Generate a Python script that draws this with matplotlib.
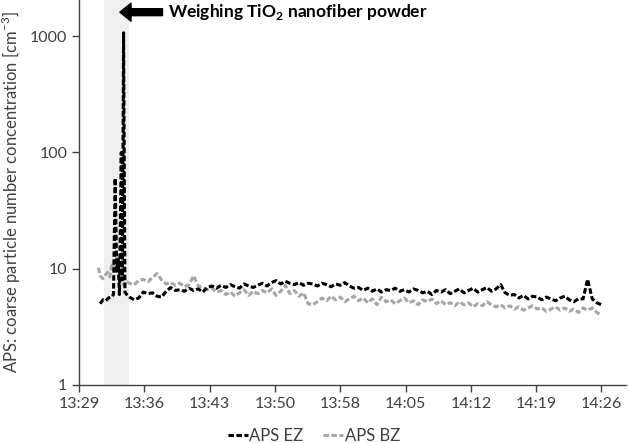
import matplotlib
matplotlib.use("Agg")
import matplotlib.pyplot as plt
import numpy as np

plt.rcParams["font.family"] = ["Lato", "DejaVu Sans"]
plt.rcParams["mathtext.fontset"] = "custom"
plt.rcParams["mathtext.rm"] = "Lato"
plt.rcParams["mathtext.bf"] = "Lato:bold"

# minutes after 13:29
TICK_STEP = 7.125
tick_labels = ["13:29", "13:36", "13:43", "13:50", "13:58",
               "14:05", "14:12", "14:19", "14:26"]

# weighing period (shaded)
weigh_start, weigh_end = 2.73, 5.46

# start of the records, irregular because of the spikes
ez_t_start = [2.3, 2.6, 2.9, 3.2, 3.5, 3.75, 3.93, 4.1, 4.25, 4.4,
              4.6, 4.72, 4.85, 5.0, 5.2]
ez_v_start = [5.0, 5.4, 5.3, 5.6, 5.7, 6.0, 60, 9.5, 12, 6.0,
              100, 8, 1070, 6.3, 6.0]

bz_t_start = [2.1, 2.35, 2.6, 2.85, 3.1, 3.35, 3.6, 3.85, 4.1, 4.35,
              4.6, 4.85, 5.1]
bz_v_start = [10.2, 8.6, 8.2, 8.8, 9.3, 8.5, 11.2, 9.6, 12.5, 10.4,
              8.3, 7.2, 7.8]

# rest of the records, every 30 s from 5.5 min
GRID_START = 5.5
GRID_STEP = 0.5
ez_v = [
    5.7, 5.4, 5.6, 6.3, 6.1, 6.2, 5.8, 5.7, 6.4, 6.9,
    6.5, 6.6, 6.4, 6.8, 6.5, 6.7, 6.3, 6.9, 7.1, 6.8,
    7.2, 6.9, 7.3, 7.0, 6.8, 7.4, 7.1, 6.9, 7.2, 7.5,
    7.1, 7.6, 7.9, 7.4, 7.8, 7.5, 7.3, 7.6, 7.2, 7.5,
    7.4, 7.1, 7.5, 7.3, 7.0, 7.4, 7.2, 7.6, 7.1, 6.8,
    6.9, 6.5, 6.8, 6.4, 6.7, 6.3, 6.6, 6.5, 6.8, 6.4,
    6.6, 6.3, 6.7, 6.5, 6.2, 6.4, 6.0, 6.5, 6.3, 6.6,
    6.1, 6.4, 6.7, 6.2, 6.5, 6.8, 6.3, 6.6, 6.9, 6.4,
    6.7, 7.3, 6.2, 5.9, 6.0, 5.6, 5.9, 5.5, 5.8, 5.7,
    5.4, 5.7, 5.5, 5.3, 5.6, 5.8, 5.4, 5.2, 5.5, 5.5,
    8.1, 5.5, 5.1, 4.9,
]
bz_v = [
    7.5, 7.3, 7.9, 8.1, 7.7, 8.4, 9.1, 8.0, 7.4, 7.6,
    7.2, 7.5, 7.0, 7.3, 8.7, 7.1, 6.9, 6.6, 6.8, 6.3,
    6.5, 6.0, 6.3, 5.8, 6.2, 6.6, 5.9, 6.4, 6.1, 6.5,
    6.2, 6.7, 5.9, 6.4, 7.2, 6.1, 6.5, 5.8, 6.2, 5.0,
    4.9, 5.2, 5.6, 5.3, 5.8, 5.4, 5.7, 5.2, 5.5, 5.8,
    5.3, 5.6, 5.1, 5.5, 4.9, 5.7, 5.2, 5.4, 5.0, 5.3,
    5.6, 5.1, 5.3, 4.9, 5.4, 5.2, 5.5, 5.0, 5.3, 4.9,
    5.1, 4.8, 5.2, 4.9, 5.1, 4.7, 5.0, 4.8, 5.2, 4.9,
    4.7, 4.9, 4.6, 4.8, 4.5, 4.7, 4.4, 4.6, 4.8, 4.5,
    4.6, 4.3, 4.5, 4.7, 4.4, 4.6, 4.3, 4.5, 4.2, 4.6,
    4.4, 4.6, 4.2, 4.0,
]

ez_t = np.concatenate([ez_t_start, GRID_START + GRID_STEP * np.arange(len(ez_v))])
ez = np.concatenate([ez_v_start, ez_v])
bz_t = np.concatenate([bz_t_start, GRID_START + GRID_STEP * np.arange(len(bz_v))])
bz = np.concatenate([bz_v_start, bz_v])

TEXT = "#404040"

fig = plt.figure(figsize=(6.28, 4.43), dpi=100)
ax = fig.add_axes([0.126, 0.131, 0.871, 0.869])

ax.axvspan(weigh_start, weigh_end, color="#efefef", lw=0, zorder=0)

ax.plot(bz_t, bz, color="#a6a6a6", lw=2.2, dashes=(1.8, 0.8),
        label="APS BZ", zorder=2)
ax.plot(ez_t, ez, color="black", lw=2.2, dashes=(1.8, 0.8),
        label="APS EZ", zorder=3)

ax.set_yscale("log")
ax.set_ylim(1, 2050)
ax.set_yticks([1, 10, 100, 1000])
ax.set_yticklabels(["1", "10", "100", "1000"])
ax.yaxis.set_minor_locator(matplotlib.ticker.NullLocator())

ax.set_xlim(0, 59.7)
ax.set_xticks(TICK_STEP * np.arange(len(tick_labels)))
ax.set_xticklabels(tick_labels)

for side in ["top", "right"]:
    ax.spines[side].set_visible(False)
for side in ["left", "bottom"]:
    ax.spines[side].set_color("#404040")
    ax.spines[side].set_linewidth(1.0)
ax.tick_params(axis="both", colors="#404040", labelcolor=TEXT,
               labelsize=11.5, length=5, width=1.0, direction="out")

ax.set_ylabel("APS: coarse particle number concentration [cm$^{-3}$]",
              fontsize=12, color=TEXT, labelpad=5)

# arrow + label
ax.annotate("", xy=(4.45, 1610), xytext=(9.1, 1610),
            arrowprops=dict(facecolor="black", edgecolor="black",
                            width=5, headwidth=13, headlength=8))
ax.text(9.7, 1610, r"Weighing TiO$_\mathbf{2}$ nanofiber powder",
        fontsize=12.5, fontweight="bold", va="center", ha="left")

handles, labels = ax.get_legend_handles_labels()
fig.legend(handles[::-1], labels[::-1], loc="lower center",
           bbox_to_anchor=(0.5, -0.035), ncol=2, frameon=False,
           fontsize=12, handlelength=1.2, handletextpad=0.1,
           columnspacing=1.2, labelcolor=TEXT)

fig.savefig("out.png", dpi=100)
